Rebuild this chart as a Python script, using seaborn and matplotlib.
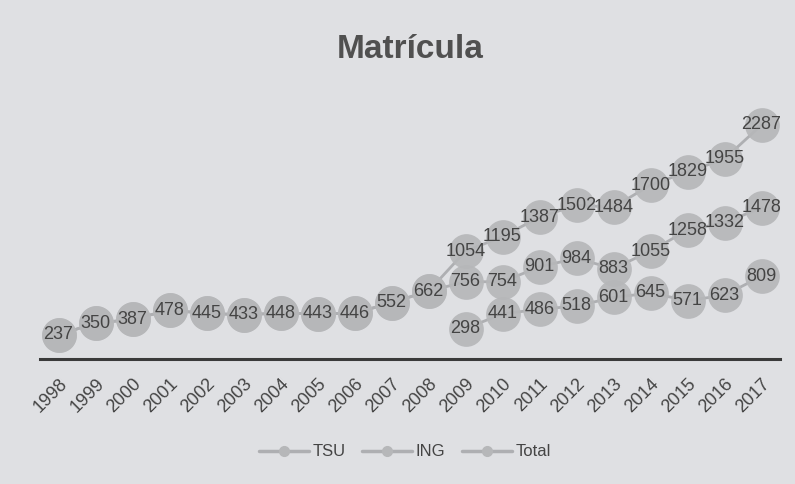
import numpy as np
import pandas as pd
import matplotlib
matplotlib.use("Agg")
import matplotlib.pyplot as plt
from matplotlib.lines import Line2D
import seaborn as sns

years = [str(y) for y in range(1998, 2018)]
tsu = [237, 350, 387, 478, 445, 433, 448, 443, 446, 552, 662,
       756, 754, 901, 984, 883, 1055, 1258, 1332, 1478]
ing = [np.nan] * 11 + [298, 441, 486, 518, 601, 645, 571, 623, 809]
total = [237, 350, 387, 478, 445, 433, 448, 443, 446, 552, 662,
         1054, 1195, 1387, 1502, 1484, 1700, 1829, 1955, 2287]
series_names = ["TSU", "ING", "Total"]

sns.set_theme(style="white")
plt.rcParams["font.family"] = ["Liberation Sans", "DejaVu Sans"]

bg = "#dfe0e3"
txt = "#444444"
mk = "#b6b7b9"
ln = "#aeafb2"

fig = plt.figure(figsize=(7.95, 4.84), dpi=100, facecolor=bg)
W, H = 795, 484
ax = fig.add_axes([40 / W, (H - 359) / H, 740 / W, (359 - 52) / H])
ax.set_facecolor(bg)

x = np.arange(len(years))
df = pd.DataFrame({
    "x": np.concatenate([x, x, x]),
    "valor": np.concatenate([tsu, ing, total]),
    "serie": np.repeat(series_names, len(years)),
})
sns.lineplot(data=df, x="x", y="valor", hue="serie", ax=ax,
             palette={s: ln for s in series_names}, linewidth=2,
             legend=False, zorder=2)
for vals in (tsu, ing, total):
    ax.plot(x, vals, linestyle="none", marker="o", markersize=25,
            markerfacecolor=mk, markeredgecolor="none", alpha=0.92, zorder=3)

labelled = set()
for vals in (tsu, ing, total):
    for i, v in enumerate(vals):
        if np.isnan(v) or (i, v) in labelled:
            continue
        labelled.add((i, v))
        ax.text(i, v, f"{int(v)}", ha="center", va="center", fontsize=13,
                color=txt, zorder=4)

ax.set_xlim(-0.5, len(years) - 0.5)
ax.set_ylim(0, 3000)
ax.set_yticks([])
ax.set_xticks(x)
ax.set_xticklabels(years, rotation=45, ha="right", rotation_mode="anchor",
                   fontsize=13, color=txt)
ax.tick_params(axis="x", length=0, pad=12)
ax.set_xlabel("")
ax.set_ylabel("")
for s in ["left", "right", "top"]:
    ax.spines[s].set_visible(False)
ax.spines["bottom"].set_color("#3a3a3a")
ax.spines["bottom"].set_linewidth(2.2)

fig.text(410 / W, 1 - 50 / H, "Matrícula", ha="center", va="center",
         fontsize=24, fontweight="bold", color="#505050")

handles = [Line2D([0], [0], color=ln, linewidth=2.5, marker="o",
                  markersize=7, markerfacecolor=mk, markeredgecolor=mk)
           for _ in series_names]
fig.legend(handles, series_names, loc="center", ncol=3,
           bbox_to_anchor=(405 / W, 1 - 452 / H), frameon=False,
           fontsize=12, labelcolor=txt, handlelength=3, columnspacing=1.0,
           handletextpad=0.2)

fig.savefig("out.png", dpi=100, facecolor=bg)
